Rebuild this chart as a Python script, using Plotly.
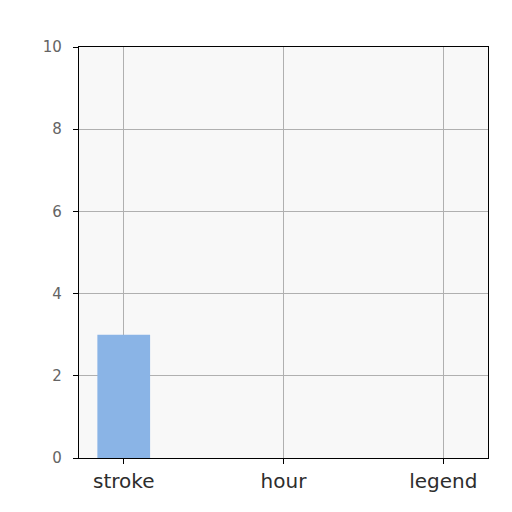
import plotly.graph_objects as go

categories = ["stroke", "hour", "legend"]
counts = [3, 0, 0]
y_ticks = [0, 2, 4, 6, 8, 10]

bar_color = "rgb(138,180,230)"
grid_color = "rgb(176,176,176)"

trace = go.Bar(
    x=categories,
    y=counts,
    width=0.33,
    marker=dict(color=bar_color, line=dict(width=0)),
)

layout = go.Layout(
    width=512,
    height=512,
    margin=dict(l=71, r=32, t=39, b=62),
    paper_bgcolor="white",
    plot_bgcolor="rgb(248,248,248)",
    showlegend=False,
    font=dict(family="DejaVu Sans", color="rgb(60,60,60)"),
    xaxis=dict(
        range=[-0.28, 2.28],
        showgrid=True,
        gridcolor=grid_color,
        gridwidth=1,
        showline=True,
        linecolor="black",
        linewidth=1.2,
        mirror=True,
        ticks="outside",
        ticklen=5,
        tickcolor="black",
        tickfont=dict(size=20, color="rgb(45,45,45)"),
        zeroline=False,
    ),
    yaxis=dict(
        range=[0, 10],
        tickvals=y_ticks,
        showgrid=True,
        gridcolor=grid_color,
        gridwidth=1,
        showline=True,
        linecolor="black",
        linewidth=1.2,
        mirror=True,
        ticks="outside",
        ticklen=5,
        tickcolor="black",
        ticklabelstandoff=8,
        tickfont=dict(size=15, color="rgb(100,100,100)"),
        zeroline=False,
    ),
)

fig = go.Figure(data=[trace], layout=layout)
fig.write_html("out.html")
